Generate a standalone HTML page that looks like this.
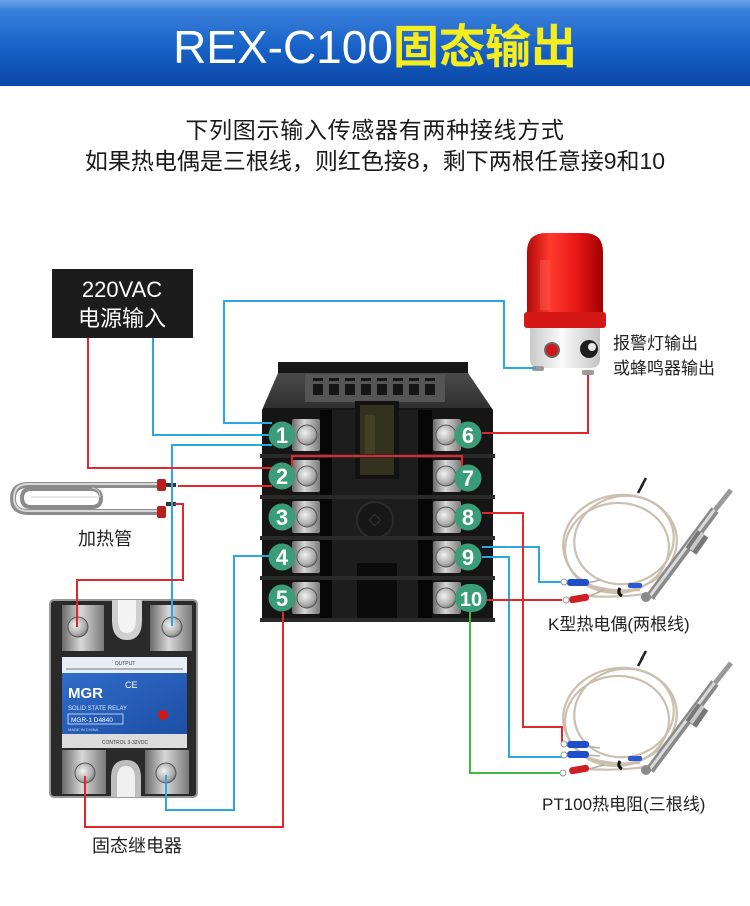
<!DOCTYPE html>
<html>
<head>
<meta charset="utf-8">
<style>
html,body{margin:0;padding:0;background:#fff;}
body{width:750px;height:906px;overflow:hidden;}
svg{display:block;}
text{font-family:"Liberation Sans","Noto Sans CJK SC",sans-serif;}
</style>
</head>
<body>
<svg width="750" height="906" viewBox="0 0 750 906" xmlns="http://www.w3.org/2000/svg">
<defs>
  <linearGradient id="hdr" x1="0" y1="0" x2="0" y2="1">
    <stop offset="0" stop-color="#6aa6ea"/>
    <stop offset="0.12" stop-color="#3a80dc"/>
    <stop offset="0.55" stop-color="#1862c8"/>
    <stop offset="1" stop-color="#0a47a6"/>
  </linearGradient>
  <linearGradient id="metal" x1="0" y1="0" x2="1" y2="0">
    <stop offset="0" stop-color="#6a6a6a"/>
    <stop offset="0.45" stop-color="#d8d8d8"/>
    <stop offset="1" stop-color="#7a7a7a"/>
  </linearGradient>
  <radialGradient id="screw" cx="0.4" cy="0.4" r="0.7">
    <stop offset="0" stop-color="#f2f2f2"/>
    <stop offset="0.7" stop-color="#a8a8a8"/>
    <stop offset="1" stop-color="#5a5a5a"/>
  </radialGradient>
  <linearGradient id="dome" x1="0" y1="0" x2="1" y2="0">
    <stop offset="0" stop-color="#b00808"/>
    <stop offset="0.3" stop-color="#ff3a2e"/>
    <stop offset="0.65" stop-color="#e81818"/>
    <stop offset="1" stop-color="#a00000"/>
  </linearGradient>
  <linearGradient id="base" x1="0" y1="0" x2="1" y2="0">
    <stop offset="0" stop-color="#c8c8c8"/>
    <stop offset="0.45" stop-color="#fbfbfb"/>
    <stop offset="1" stop-color="#c4c4c4"/>
  </linearGradient>
  <linearGradient id="topface" x1="0" y1="0" x2="0" y2="1">
    <stop offset="0" stop-color="#4a4a4a"/>
    <stop offset="1" stop-color="#2e2e2e"/>
  </linearGradient>
  <linearGradient id="ssrblue" x1="0" y1="0" x2="1" y2="1">
    <stop offset="0" stop-color="#2f6cc8"/>
    <stop offset="1" stop-color="#1d4fa6"/>
  </linearGradient>
</defs>

<!-- Header -->
<rect x="0" y="0" width="750" height="86" fill="url(#hdr)"/>
<text x="375" y="63" text-anchor="middle" font-size="46"><tspan fill="#ffffff">REX-C100</tspan><tspan fill="#f6ee1c" font-weight="bold">固态输出</tspan></text>

<!-- Subtitle -->
<text x="375" y="138" text-anchor="middle" font-size="23" fill="#1a1a1a" letter-spacing="0.7">下列图示输入传感器有两种接线方式</text>
<text x="375" y="169" text-anchor="middle" font-size="23" fill="#1a1a1a">如果热电偶是三根线，则红色接8，剩下两根任意接9和10</text>

<!-- 220VAC box -->
<rect x="52" y="269" width="141" height="69" fill="#1c1c1c"/>
<text x="122" y="297" text-anchor="middle" font-size="22" fill="#fff">220VAC</text>
<text x="122" y="326" text-anchor="middle" font-size="22" fill="#fff">电源输入</text>

<!-- Alarm lamp -->
<path d="M527,328 L527,252 Q527,233 546,233 L584,233 Q603,233 603,252 L603,328 Z" fill="url(#dome)"/>
<rect x="540" y="260" width="10" height="50" fill="#ff6a5a" opacity="0.35"/>
<rect x="524" y="312" width="82" height="16" rx="3" fill="#d41818"/>
<path d="M530,328 L600,328 L600,359 Q600,368 590,368 L540,368 Q530,368 530,359 Z" fill="url(#base)"/>
<circle cx="552" cy="350" r="7" fill="#d31616" stroke="#6a6a6a" stroke-width="2"/>
<circle cx="589" cy="349" r="9" fill="#1e1e1e"/>
<circle cx="592" cy="347" r="4" fill="#e8e8e8"/>
<rect x="532" y="366" width="12" height="5" rx="2" fill="#9a9a9a"/>
<rect x="582" y="370" width="12" height="5" rx="2" fill="#9a9a9a"/>
<text x="613" y="349" font-size="17" fill="#222">报警灯输出</text>
<text x="613" y="374" font-size="17" fill="#222">或蜂鸣器输出</text>

<!-- Heater -->
<path d="M160,485 L28,485 Q13,485 13,498.5 Q13,512 28,512 L160,512" fill="none" stroke="#8c8c8c" stroke-width="6"/>
<path d="M160,484 L28,484 Q14,484 14,498 Q14,511 28,511 L160,511" fill="none" stroke="#d8d8d8" stroke-width="2"/>
<path d="M92,489 Q101,490 101,498 Q101,507 92,507 L31,507 Q22,507 22,498 Q22,489 31,489 Z" fill="none" stroke="#8a8a8a" stroke-width="4"/>
<path d="M92,488 Q100,489 100,497 L31,497" fill="none" stroke="#cfcfcf" stroke-width="1"/>
<rect x="157" y="479" width="9" height="12" rx="2" fill="#b81f1f"/>
<rect x="157" y="506" width="9" height="12" rx="2" fill="#b81f1f"/>
<rect x="166" y="483" width="10" height="4" fill="#333"/>
<rect x="166" y="502" width="10" height="4" fill="#333"/>
<text x="78" y="545" font-size="18" fill="#222">加热管</text>

<!-- SSR -->
<rect x="50" y="600" width="147" height="197" rx="4" fill="#2a2a2a" stroke="#9a9a9a" stroke-width="2"/>
<rect x="62" y="605" width="42" height="46" fill="url(#metal)"/>
<rect x="150" y="605" width="42" height="46" fill="url(#metal)"/>
<circle cx="78" cy="627" r="10" fill="url(#screw)" stroke="#555"/>
<circle cx="172" cy="627" r="10" fill="url(#screw)" stroke="#555"/>
<path d="M112,600 L112,620 Q112,640 127,640 Q142,640 142,620 L142,600 Z" fill="#cfcfcf"/>
<path d="M118,600 L118,619 Q118,633 127,633 Q136,633 136,619 L136,600 Z" fill="#f4f4f4"/>
<rect x="62" y="657" width="125" height="16" fill="#e8eef6"/>
<rect x="62" y="673" width="125" height="61" fill="url(#ssrblue)"/>
<text x="125" y="665" text-anchor="middle" font-size="5" fill="#333">OUTPUT</text>
<line x1="66" y1="669" x2="183" y2="669" stroke="#555" stroke-width="0.7"/>
<text x="68" y="698" font-size="15" font-weight="bold" fill="#fff">MGR</text>
<text x="125" y="688" font-size="9" fill="#fff">CE</text>
<text x="68" y="710" font-size="6" fill="#e0e8ff">SOLID STATE RELAY</text>
<rect x="68" y="714" width="55" height="10" fill="none" stroke="#e0e8ff" stroke-width="0.8"/>
<text x="71" y="722" font-size="6.5" fill="#fff">MGR-1 D4840</text>
<text x="68" y="731" font-size="4" fill="#d0d8f0">MADE IN CHINA</text>
<circle cx="163" cy="715" r="5" fill="#d21818"/>
<rect x="62" y="734" width="125" height="14" fill="#dcdcdc"/>
<text x="125" y="744" text-anchor="middle" font-size="5" fill="#333">CONTROL 3-32VDC</text>
<rect x="62" y="750" width="44" height="44" fill="url(#metal)"/>
<rect x="145" y="750" width="44" height="44" fill="url(#metal)"/>
<circle cx="85" cy="773" r="10" fill="url(#screw)" stroke="#555"/>
<circle cx="166" cy="773" r="10" fill="url(#screw)" stroke="#555"/>
<path d="M111,797 L111,778 Q111,760 126,760 Q141,760 141,778 L141,797 Z" fill="#bdbdbd"/>
<path d="M117,797 L117,779 Q117,766 126,766 Q135,766 135,779 L135,797 Z" fill="#f0f0f0"/>
<text x="92" y="852" font-size="18" fill="#222">固态继电器</text>

<!-- Controller body -->
<rect x="278" y="362" width="190" height="12" fill="#161616"/>
<polygon points="278,373 468,373 493,410 262,410" fill="url(#topface)"/>
<rect x="305" y="374" width="140" height="28" fill="#555"/>
<g fill="#151515">
  <rect x="313" y="378" width="10" height="3"/><rect x="313" y="384" width="10" height="11"/>
  <rect x="329" y="378" width="10" height="3"/><rect x="329" y="384" width="10" height="11"/>
  <rect x="345" y="378" width="10" height="3"/><rect x="345" y="384" width="10" height="11"/>
  <rect x="361" y="378" width="10" height="3"/><rect x="361" y="384" width="10" height="11"/>
  <rect x="377" y="378" width="10" height="3"/><rect x="377" y="384" width="10" height="11"/>
  <rect x="393" y="378" width="10" height="3"/><rect x="393" y="384" width="10" height="11"/>
  <rect x="409" y="378" width="10" height="3"/><rect x="409" y="384" width="10" height="11"/>
  <rect x="425" y="378" width="10" height="3"/><rect x="425" y="384" width="10" height="11"/>
</g>
<rect x="262" y="408" width="231" height="214" rx="3" fill="#151515"/>
<rect x="332" y="410" width="86" height="212" fill="#1d1d1d"/>
<rect x="320" y="410" width="12" height="212" fill="#070707"/>
<rect x="418" y="410" width="14" height="212" fill="#070707"/>
<rect x="355" y="401" width="44" height="78" fill="#121212"/>
<rect x="360" y="405" width="34" height="70" fill="#33321f"/>
<rect x="365" y="415" width="10" height="40" fill="#4a4726" opacity="0.7"/>
<circle cx="375" cy="520" r="18" fill="#171717" stroke="#2c2c2c" stroke-width="2"/>
<rect x="371" y="516" width="8" height="8" fill="none" stroke="#333" transform="rotate(45 375 520)"/>
<rect x="357" y="563" width="40" height="59" fill="#0b0b0b"/>
<!-- row ridges -->
<g fill="#2a2a2a">
  <rect x="260" y="454" width="235" height="4"/>
  <rect x="260" y="495" width="235" height="4"/>
  <rect x="260" y="536" width="235" height="4"/>
  <rect x="260" y="576" width="235" height="4"/>
  <rect x="260" y="618" width="235" height="4"/>
</g>
<!-- screws -->
<g>
  <rect x="292" y="419" width="28" height="32" rx="2" fill="url(#metal)"/><circle cx="307" cy="435" r="10" fill="url(#screw)" stroke="#555"/>
  <rect x="292" y="460" width="28" height="32" rx="2" fill="url(#metal)"/><circle cx="307" cy="476" r="10" fill="url(#screw)" stroke="#555"/>
  <rect x="292" y="501" width="28" height="32" rx="2" fill="url(#metal)"/><circle cx="307" cy="517" r="10" fill="url(#screw)" stroke="#555"/>
  <rect x="292" y="541" width="28" height="32" rx="2" fill="url(#metal)"/><circle cx="307" cy="557" r="10" fill="url(#screw)" stroke="#555"/>
  <rect x="292" y="582" width="28" height="32" rx="2" fill="url(#metal)"/><circle cx="307" cy="598" r="10" fill="url(#screw)" stroke="#555"/>
  <rect x="433" y="419" width="28" height="32" rx="2" fill="url(#metal)"/><circle cx="446" cy="435" r="10" fill="url(#screw)" stroke="#555"/>
  <rect x="433" y="460" width="28" height="32" rx="2" fill="url(#metal)"/><circle cx="446" cy="476" r="10" fill="url(#screw)" stroke="#555"/>
  <rect x="433" y="501" width="28" height="32" rx="2" fill="url(#metal)"/><circle cx="446" cy="517" r="10" fill="url(#screw)" stroke="#555"/>
  <rect x="433" y="541" width="28" height="32" rx="2" fill="url(#metal)"/><circle cx="446" cy="557" r="10" fill="url(#screw)" stroke="#555"/>
  <rect x="433" y="582" width="28" height="32" rx="2" fill="url(#metal)"/><circle cx="446" cy="598" r="10" fill="url(#screw)" stroke="#555"/>
</g>

<!-- Wires -->
<g fill="none" stroke-width="2" stroke-linejoin="miter">
  <!-- blue -->
  <path d="M536,368 L504,368 L504,301 L224,301 L224,423 L272,423" stroke="#2aa8e2"/>
  <path d="M153,338 L153,435 L270,435" stroke="#2aa8e2"/>
  <path d="M272,445 L172,445 L172,626" stroke="#2aa8e2"/>
  <path d="M270,556 L234,556 L234,810 L166,810 L166,775" stroke="#2aa8e2"/>
  <path d="M482,547 L539,547 L539,582 L562,582" stroke="#2aa8e2"/>
  <path d="M482,557 L509,557 L509,757 L562,757" stroke="#2aa8e2"/>
  <!-- red -->
  <path d="M88,338 L88,468 L272,468" stroke="#e3262b"/>
  <path d="M178,486 L272,486" stroke="#e3262b"/>
  <path d="M175,504 L183,504 L183,580 L77,580 L77,627" stroke="#e3262b"/>
  <path d="M283,612 L283,827 L85,827 L85,776" stroke="#e3262b"/>
  <path d="M292,466 L292,456 L462,456 L462,466" stroke="#e3262b"/>
  <path d="M482,433 L588,433 L588,375" stroke="#e3262b"/>
  <path d="M482,513 L523,513 L523,727 L562,727 L562,742" stroke="#e3262b"/>
  <path d="M485,600 L562,600" stroke="#e3262b"/>
  <!-- green -->
  <path d="M470,612 L470,773 L560,773" stroke="#3cbb3c"/>
</g>

<!-- Terminal numbers -->
<g font-size="22" font-weight="bold" fill="#fff" text-anchor="middle">
  <circle cx="282" cy="435" r="13.5" fill="#3a9c78"/><text x="282" y="443">1</text>
  <circle cx="282" cy="476" r="13.5" fill="#3a9c78"/><text x="282" y="484">2</text>
  <circle cx="282" cy="517" r="13.5" fill="#3a9c78"/><text x="282" y="525">3</text>
  <circle cx="282" cy="557" r="13.5" fill="#3a9c78"/><text x="282" y="565">4</text>
  <circle cx="282" cy="598" r="13.5" fill="#3a9c78"/><text x="282" y="606">5</text>
  <circle cx="468" cy="435" r="13.5" fill="#3a9c78"/><text x="468" y="443">6</text>
  <circle cx="468" cy="478" r="13.5" fill="#3a9c78"/><text x="468" y="486">7</text>
  <circle cx="468" cy="517" r="13.5" fill="#3a9c78"/><text x="468" y="525">8</text>
  <circle cx="468" cy="557" r="13.5" fill="#3a9c78"/><text x="468" y="565">9</text>
  <rect x="455" y="584" width="32" height="28" rx="14" fill="#3a9c78"/><text x="471" y="606" font-size="20">10</text>
</g>

<!-- Thermocouple (K type) -->
<g id="tc">
  <g fill="none" stroke="#cdbfb0" stroke-width="2.2">
    <ellipse cx="620" cy="543" rx="57" ry="48" transform="rotate(-8 620 543)"/>
    <ellipse cx="617" cy="548" rx="52" ry="45" transform="rotate(-5 617 548)"/>
    <ellipse cx="624" cy="540" rx="50" ry="44" transform="rotate(-12 624 540)"/>
    <path d="M590,585 Q610,592 640,590"/>
    <path d="M588,596 Q615,598 645,594"/>
  </g>
  <path d="M600,580 L580,585" stroke="#b8aca0" stroke-width="1.5"/>
  <path d="M604,590 L582,599" stroke="#b8aca0" stroke-width="1.5"/>
  <path d="M638,493 L643,484 M641,487 L646,478" stroke="#222" stroke-width="2.5"/>
  <path d="M620,588 q-3,5 2,8" stroke="#111" stroke-width="3" fill="none"/>
  <line x1="650" y1="597" x2="715" y2="510" stroke="#8a8a8a" stroke-width="9"/>
  <line x1="650" y1="596" x2="715" y2="509" stroke="#dadada" stroke-width="3"/>
  <line x1="691" y1="551" x2="703" y2="534" stroke="#777" stroke-width="13"/>
  <line x1="691" y1="550" x2="703" y2="533" stroke="#c8c8c8" stroke-width="4"/>
  <line x1="715" y1="510" x2="731" y2="490" stroke="#9a9a9a" stroke-width="5"/>
  <circle cx="646" cy="597" r="5" fill="#8a8a8a"/>
  <rect x="567" y="579" width="22" height="7" rx="3" fill="#1f4fc8"/>
  <circle cx="564" cy="582" r="3" fill="#fff" stroke="#999"/>
  <rect x="569" y="595" width="20" height="7" rx="3" fill="#cf1f24" transform="rotate(-10 579 598)"/>
  <circle cx="566" cy="600" r="3" fill="#fff" stroke="#999"/>
  <rect x="628" y="583" width="14" height="5" rx="2" fill="#2a5ad0"/>
</g>
<text x="548" y="630" font-size="17" fill="#222">K型热电偶(两根线)</text>

<!-- Thermocouple (PT100) -->
<g transform="translate(0,173)">
  <g fill="none" stroke="#cdbfb0" stroke-width="2.2">
    <ellipse cx="620" cy="543" rx="57" ry="48" transform="rotate(-8 620 543)"/>
    <ellipse cx="617" cy="548" rx="52" ry="45" transform="rotate(-5 617 548)"/>
    <ellipse cx="624" cy="540" rx="50" ry="44" transform="rotate(-12 624 540)"/>
    <path d="M590,585 Q610,592 640,590"/>
    <path d="M588,596 Q615,598 645,594"/>
  </g>
  <path d="M638,493 L643,484 M641,487 L646,478" stroke="#222" stroke-width="2.5"/>
  <path d="M620,588 q-3,5 2,8" stroke="#111" stroke-width="3" fill="none"/>
  <line x1="650" y1="597" x2="715" y2="510" stroke="#8a8a8a" stroke-width="9"/>
  <line x1="650" y1="596" x2="715" y2="509" stroke="#dadada" stroke-width="3"/>
  <line x1="691" y1="551" x2="703" y2="534" stroke="#777" stroke-width="13"/>
  <line x1="691" y1="550" x2="703" y2="533" stroke="#c8c8c8" stroke-width="4"/>
  <line x1="715" y1="510" x2="731" y2="490" stroke="#9a9a9a" stroke-width="5"/>
  <circle cx="646" cy="597" r="5" fill="#8a8a8a"/>
  <rect x="628" y="583" width="14" height="5" rx="2" fill="#2a5ad0"/>
</g>
<g>
  <path d="M600,748 L585,746 M600,756 L585,755 M604,765 L585,770" stroke="#b8aca0" stroke-width="1.5"/>
  <rect x="567" y="741" width="22" height="7" rx="3" fill="#1f4fc8"/>
  <circle cx="564" cy="744" r="3" fill="#fff" stroke="#999"/>
  <rect x="567" y="751" width="22" height="7" rx="3" fill="#1f4fc8"/>
  <circle cx="564" cy="755" r="3" fill="#fff" stroke="#999"/>
  <rect x="569" y="766" width="20" height="7" rx="3" fill="#cf1f24" transform="rotate(-10 579 769)"/>
  <circle cx="563" cy="773" r="3" fill="#fff" stroke="#999"/>
</g>
<text x="542" y="810" font-size="17" fill="#222">PT100热电阻(三根线)</text>
</svg>
</body>
</html>
